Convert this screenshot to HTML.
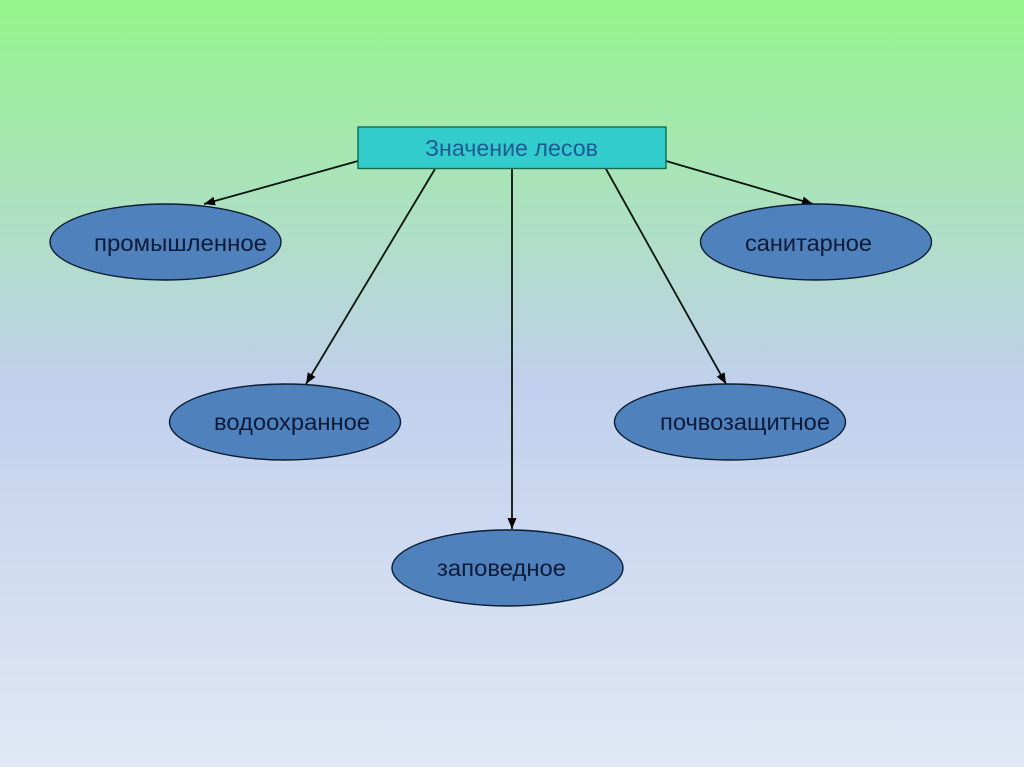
<!DOCTYPE html>
<html>
<head>
<meta charset="utf-8">
<style>
html,body{margin:0;padding:0;width:1024px;height:767px;overflow:hidden;background:#e0e8f5}
svg{display:block}
text{font-family:"Liberation Sans","DejaVu Sans",sans-serif;font-size:23px;fill:#0d1a38}
</style>
</head>
<body>
<svg width="1024" height="767" viewBox="0 0 1024 767" xmlns="http://www.w3.org/2000/svg">
<defs>
<linearGradient id="bg" x1="0" y1="0" x2="0" y2="1">
<stop offset="0" stop-color="#95f58b"/>
<stop offset="0.5" stop-color="#c0d0ec"/>
<stop offset="1" stop-color="#e1e8f5"/>
</linearGradient>
<marker id="a" markerWidth="12" markerHeight="10" refX="11" refY="4.5" orient="auto" markerUnits="userSpaceOnUse">
<path d="M0 0L11 4.5L0 9z" fill="#000"/>
</marker>
</defs>
<rect width="1024" height="767" fill="url(#bg)"/>
<g stroke="#06140c" stroke-width="1.8" fill="none">
<line x1="358" y1="161" x2="204" y2="204" marker-end="url(#a)"/>
<line x1="435" y1="169" x2="306" y2="384" marker-end="url(#a)"/>
<line x1="512" y1="169" x2="512" y2="529" marker-end="url(#a)"/>
<line x1="606" y1="169" x2="726" y2="384" marker-end="url(#a)"/>
<line x1="666" y1="161" x2="813" y2="204" marker-end="url(#a)"/>
</g>
<rect x="358" y="127" width="308" height="41.5" fill="#33cccc" stroke="#126b52" stroke-width="1.4"/>
<g fill="#4f81bd" stroke="#0c1c30" stroke-width="1.4">
<ellipse cx="165.500" cy="242" rx="115.500" ry="38"/>
<ellipse cx="816" cy="242" rx="115.500" ry="38"/>
<ellipse cx="285" cy="422" rx="115.500" ry="38"/>
<ellipse cx="730" cy="422" rx="115.500" ry="38"/>
<ellipse cx="507.500" cy="568" rx="115.500" ry="38"/>
</g>
<text x="425" y="156" textLength="173" lengthAdjust="spacingAndGlyphs" style="fill:#1f5a94">Значение лесов</text>
<text x="94" y="251" textLength="173" lengthAdjust="spacingAndGlyphs">промышленное</text>
<text x="745" y="251" textLength="127" lengthAdjust="spacingAndGlyphs">санитарное</text>
<text x="214" y="430" textLength="156" lengthAdjust="spacingAndGlyphs">водоохранное</text>
<text x="660" y="430" textLength="170" lengthAdjust="spacingAndGlyphs">почвозащитное</text>
<text x="437" y="576" textLength="129" lengthAdjust="spacingAndGlyphs">заповедное</text>
</svg>
</body>
</html>
